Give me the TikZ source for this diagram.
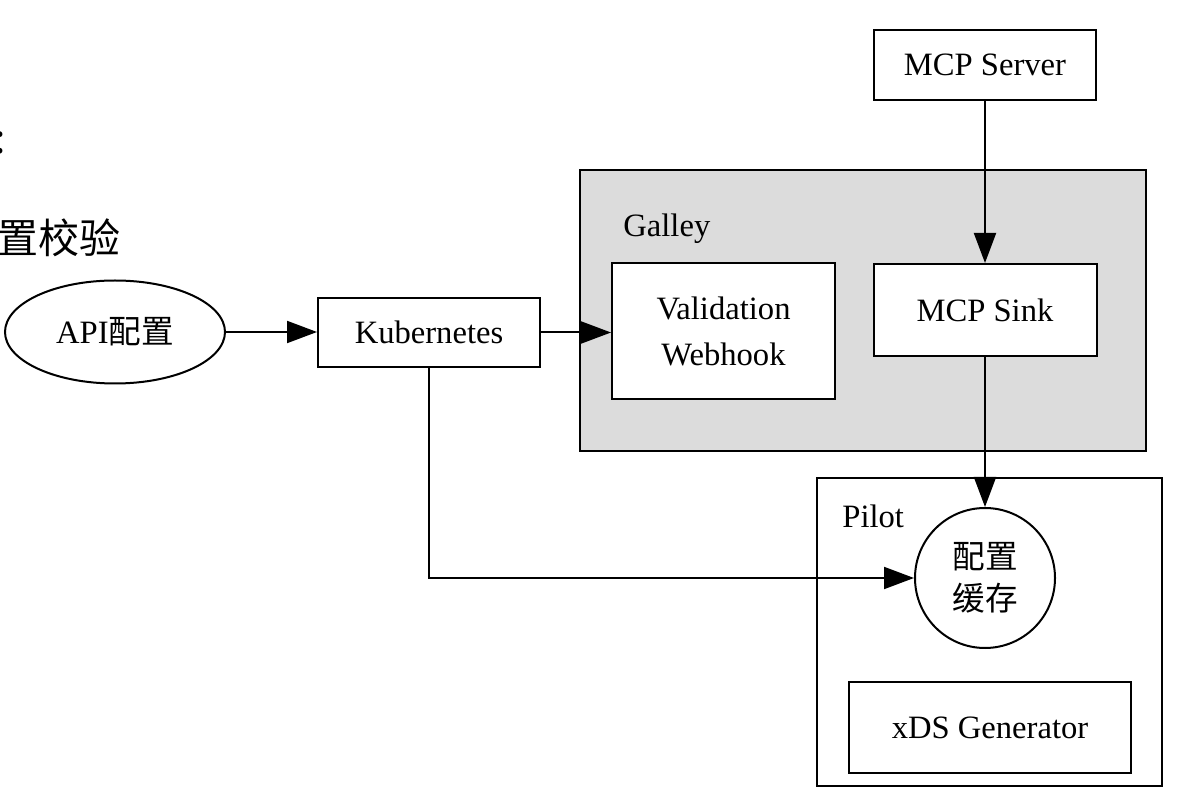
\documentclass[tikz,border=0pt]{standalone}
\usepackage{fontspec}
\setmainfont{Liberation Serif}
\newfontfamily\cjk{Noto Sans CJK SC}
\usetikzlibrary{arrows.meta,shapes.geometric}
\definecolor{galleygray}{RGB}{220,220,220}
\tikzset{
	every node/.style={font=\fontsize{16.3}{20}\selectfont},
	box/.style={draw, line width=1pt, rectangle, inner sep=0pt},
	arrow/.style={draw, line width=1pt, -{Triangle[length=15pt,width=11pt]}},
}

\begin{document}
\begin{tikzpicture}[x=0.5pt, y=-0.5pt]
		\useasboundingbox (0, 0) rectangle (1178, 806);
		\clip (0, 0) rectangle (1178, 806);
		\fill[white] (0, 0) rectangle (1178, 806);
		% cut slide text on the left
		\node(colon)[anchor=center, inner sep=0pt, font=\cjk\fontsize{20.5}{24}\selectfont] at (0, 143) {:};
		\node(check)[anchor=center, inner sep=0pt, font=\cjk\fontsize{20.5}{24}\selectfont] at (59, 238) {置校验};
		% containers
		\node(galley)[box, fill=galleygray, minimum width=283pt, minimum height=140.5pt] at (863, 310.5) {};
		\node(pilot)[box, minimum width=172.5pt, minimum height=154pt] at (989.5, 632) {};
		\node()[anchor=base west, inner sep=0pt] at (623, 237) {Galley};
		\node()[anchor=base west, inner sep=0pt] at (842, 528) {Pilot};
		% nodes
		\node(api)[draw, line width=1pt, ellipse, minimum width=110pt, minimum height=51.5pt, inner sep=0pt] at (115, 332) {API{\cjk 配置}};
		\node(kube)[box, minimum width=111pt, minimum height=34.5pt] at (429, 332.5) {Kubernetes};
		\node(valid)[box, fill=white, minimum width=111.5pt, minimum height=68pt, align=center] at (723.5, 331) {Validation\\[3pt]Webhook};
		\node(server)[box, minimum width=111pt, minimum height=35pt] at (985, 65) {MCP Server};
		\node(sink)[box, fill=white, minimum width=111.5pt, minimum height=46pt] at (985, 310) {MCP Sink};
		\node(cache)[draw, line width=1pt, circle, minimum size=70pt, inner sep=0pt, align=center, font=\cjk\fontsize{16.3}{21}\selectfont] at (985, 578) {配置\\缓存};
		\node(xds)[box, minimum width=141pt, minimum height=45.5pt] at (990, 727.5) {xDS Generator};
		% connectors
		\draw[arrow] (api.east) -- (api.east -| kube.west);
		\draw[arrow] (kube.east) -- (kube.east -| valid.west);
		\draw[arrow] (server.south) -- (sink.north);
		\draw[arrow] (sink.south) -- (cache.north);
		\draw[arrow] (kube.south) |- (cache.west);
\end{tikzpicture}
\end{document}
